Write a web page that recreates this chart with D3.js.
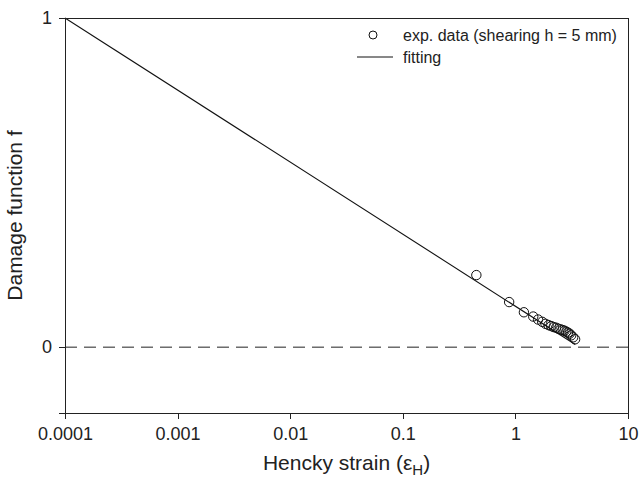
<!DOCTYPE html>
<html>
<head>
<meta charset="utf-8">
<script src="https://cdn.jsdelivr.net/npm/d3@7"></script>
<style>
    body { margin: 0; background: #fff; }
    svg { display: block; font-family: "Liberation Sans", Arial, Helvetica, sans-serif; }
    .axis path, .axis line { stroke: #222; stroke-width: 1px; shape-rendering: crispEdges; }
    .axis text { fill: #222; font-size: 18px; }
    .axis-label { fill: #222; font-size: 21px; }
    .legend text { fill: #222; font-size: 16px; }
</style>
</head>
<body>
<div id="chart"></div>
<script>
const width = 642;
const height = 480;

const margin = {
    top: 18,
    right: 14,
    bottom: 67,
    left: 65
};

// experimental data (shearing h = 5 mm)
const strain = [0.45, 0.88, 1.19, 1.44, 1.59, 1.73, 1.85, 1.97, 2.08, 2.19, 2.30, 2.41,
    2.52, 2.63, 2.73, 2.83, 2.93, 3.03, 3.13, 3.26, 3.39];
const damage = [0.219, 0.137, 0.106, 0.093, 0.084, 0.077, 0.071, 0.067, 0.064, 0.061, 0.059, 0.056,
    0.054, 0.052, 0.050, 0.047, 0.044, 0.041, 0.036, 0.030, 0.024];

// fitting line end points
const fitStrain = [0.0001, 3.4];
const fitDamage = [1, 0.008];

const xTicks = [0.0001, 0.001, 0.01, 0.1, 1, 10];
const xTickLabels = ["0.0001", "0.001", "0.01", "0.1", "1", "10"];
const yTicks = [0, 1];
const yTickLabels = ["0", "1"];

const expData = strain.map((s, i) => ({ s, f: damage[i] }));
const fitData = fitStrain.map((s, i) => ({ s, f: fitDamage[i] }));

const svg = d3.select("#chart")
    .append("svg")
    .attr("width", width)
    .attr("height", height);

const x = d3.scaleLog()
    .domain([0.0001, 10])
    .range([margin.left, width - margin.right]);

const y = d3.scaleLinear()
    .domain([-0.2, 1])
    .range([height - margin.bottom, margin.top]);

////////////////////////////////////////////////////////
// ZERO LINE
////////////////////////////////////////////////////////

svg.append("line")
    .attr("x1", x.range()[0])
    .attr("x2", x.range()[1])
    .attr("y1", y(0))
    .attr("y2", y(0))
    .attr("stroke", "#222")
    .attr("stroke-dasharray", "12,7");

////////////////////////////////////////////////////////
// FITTING LINE
////////////////////////////////////////////////////////

const line = d3.line()
    .x(d => x(d.s))
    .y(d => y(d.f));

svg.append("path")
    .datum(fitData)
    .attr("fill", "none")
    .attr("stroke", "#111")
    .attr("stroke-width", 1.1)
    .attr("d", line);

////////////////////////////////////////////////////////
// POINTS
////////////////////////////////////////////////////////

svg.selectAll(".point")
    .data(expData)
    .enter()
    .append("circle")
    .attr("class", "point")
    .attr("cx", d => x(d.s))
    .attr("cy", d => y(d.f))
    .attr("r", 4.7)
    .attr("fill", "none")
    .attr("stroke", "#111")
    .attr("stroke-width", 1);

////////////////////////////////////////////////////////
// AXES + FRAME
////////////////////////////////////////////////////////

svg.append("g")
    .attr("class", "axis")
    .attr("transform", `translate(0,${height - margin.bottom})`)
    .call(d3.axisBottom(x)
        .tickValues(xTicks)
        .tickFormat((d, i) => xTickLabels[i])
        .tickSizeOuter(0)
        .tickSize(6)
        .tickPadding(8));

svg.append("g")
    .attr("class", "axis")
    .attr("transform", `translate(${margin.left},0)`)
    .call(d3.axisLeft(y)
        .tickValues(yTicks)
        .tickFormat((d, i) => yTickLabels[i])
        .tickSizeOuter(0)
        .tickSize(6)
        .tickPadding(7));

// top and right border
svg.append("path")
    .attr("fill", "none")
    .attr("stroke", "#222")
    .attr("shape-rendering", "crispEdges")
    .attr("d", `M${x.range()[0]},${y.range()[1]}H${x.range()[1]}V${y.range()[0]}`);

////////////////////////////////////////////////////////
// LABELS
////////////////////////////////////////////////////////

const xLabel = svg.append("text")
    .attr("class", "axis-label")
    .attr("x", (x.range()[0] + x.range()[1]) / 2)
    .attr("y", 470)
    .attr("text-anchor", "middle");
xLabel.append("tspan").text("Hencky strain (\u03B5");
xLabel.append("tspan").attr("dy", 5).attr("font-size", 15).text("H");
xLabel.append("tspan").attr("dy", -5).text(")");

svg.append("text")
    .attr("class", "axis-label")
    .attr("x", -(y.range()[0] + y.range()[1]) / 2)
    .attr("y", 22)
    .attr("transform", "rotate(-90)")
    .attr("text-anchor", "middle")
    .text("Damage function f");

////////////////////////////////////////////////////////
// LEGEND
////////////////////////////////////////////////////////

const legend = svg.append("g").attr("class", "legend");

legend.append("circle")
    .attr("cx", 373)
    .attr("cy", 35)
    .attr("r", 4)
    .attr("fill", "none")
    .attr("stroke", "#111");

legend.append("text")
    .attr("x", 403)
    .attr("y", 41)
    .text("exp. data (shearing h = 5 mm)");

legend.append("line")
    .attr("x1", 357)
    .attr("x2", 393)
    .attr("y1", 57)
    .attr("y2", 57)
    .attr("stroke", "#111");

legend.append("text")
    .attr("x", 403)
    .attr("y", 63)
    .text("fitting");
</script>
</body>
</html>
